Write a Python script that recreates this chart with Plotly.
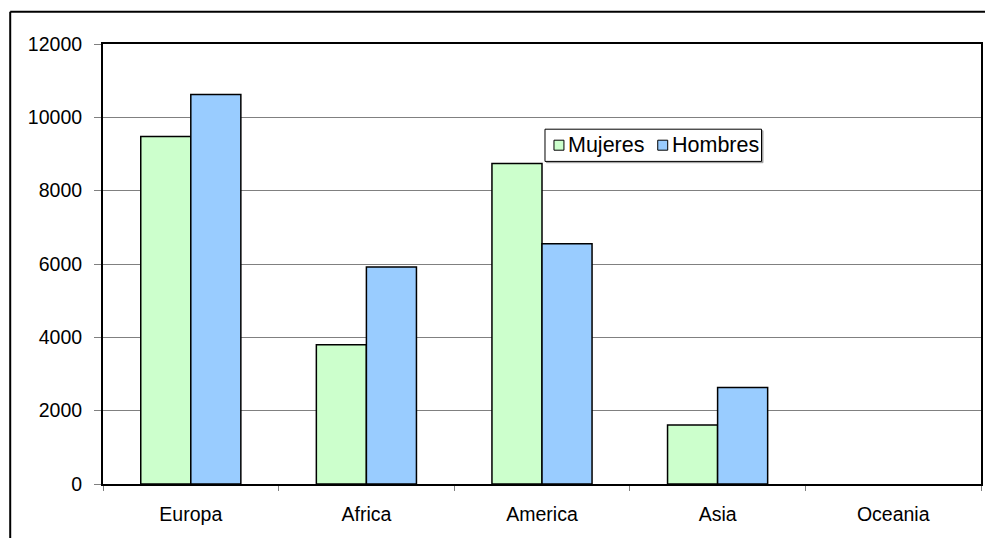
import plotly.graph_objects as go

categories = ["Europa", "Africa", "America", "Asia", "Oceania"]
mujeres = [9480, 3800, 8740, 1610, 0]
hombres = [10620, 5920, 6550, 2630, 0]
y_ticks = [0, 2000, 4000, 6000, 8000, 10000, 12000]
series_names = ["Mujeres", "Hombres"]
series_colors = ["#CCFFCC", "#99CCFF"]

FONT = "Liberation Sans, Arial, sans-serif"

# plot area in pixels: x 103..983, y 44.3..484.3
def px(x):
    return (x - 103) / 880.0

def py(y):
    return (484.3 - y) / 440.0

fig = go.Figure()
for name, vals, col in zip(series_names, [mujeres, hombres], series_colors):
    fig.add_trace(go.Bar(
        name=name, x=categories, y=vals,
        marker=dict(color=col,
                    line=dict(color="#000000", width=[1.5 if v else 0 for v in vals]))))

shapes = [
    # outer chart border (left and top visible)
    dict(type="line", xref="paper", yref="paper", x0=px(10), x1=px(10),
         y0=py(12), y1=py(545), line=dict(color="#000000", width=2)),
    dict(type="line", xref="paper", yref="paper", x0=px(10), x1=px(987),
         y0=py(12), y1=py(12), line=dict(color="#000000", width=2)),
    # legend box shadow + box
    dict(type="rect", xref="paper", yref="paper", x0=px(547.5), x1=px(764.5),
         y0=py(131), y1=py(163), line=dict(color="#A0A0A0", width=1), fillcolor="#A0A0A0"),
    dict(type="rect", xref="paper", yref="paper", x0=px(546), x1=px(763),
         y0=py(129.5), y1=py(161.7), line=dict(color="#000000", width=1), fillcolor="white"),
]
annotations = []
legend_sq_x = [555, 659]
legend_txt_x = [567, 671]
for name, col, sx, tx in zip(series_names, series_colors, legend_sq_x, legend_txt_x):
    shapes.append(dict(type="rect", xref="paper", yref="paper", x0=px(sx), x1=px(sx + 10),
                       y0=py(140.5), y1=py(150.5), line=dict(color="#000000", width=1),
                       fillcolor=col))
    annotations.append(dict(text=name, xref="paper", yref="paper", x=px(tx), y=py(145.5),
                            xanchor="left", yanchor="middle", showarrow=False,
                            font=dict(family=FONT, size=21.5, color="#000000")))

fig.update_layout(
    width=991, height=538,
    margin=dict(l=103, r=8, t=44, b=54),
    paper_bgcolor="white", plot_bgcolor="white",
    barmode="group", bargap=0.43, bargroupgap=0,
    font=dict(family=FONT, size=19.5, color="#000000"),
    showlegend=False,
    xaxis=dict(showline=True, linecolor="#000000", linewidth=1.5, mirror=True,
               ticks="outside", tickson="boundaries", ticklen=5, tickcolor="#808080",
               showgrid=False, ticklabelstandoff=12),
    yaxis=dict(range=[0, 12000], tickvals=y_ticks, ticktext=[str(v) for v in y_ticks],
               showline=True, linecolor="#000000",
               linewidth=2, mirror=True, ticks="outside", ticklen=7, tickcolor="#808080",
               showgrid=True, gridcolor="#808080", gridwidth=1, zeroline=False,
               ticklabelstandoff=8),
    shapes=shapes,
    annotations=annotations,
)

fig.write_html("out.html")
